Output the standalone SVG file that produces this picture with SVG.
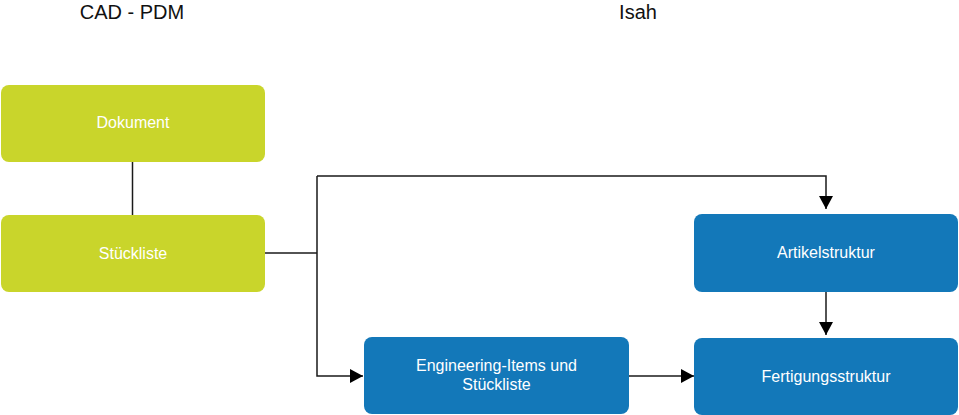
<svg xmlns="http://www.w3.org/2000/svg" width="959" height="415" viewBox="0 0 959 415">
<style>
.t{font-family:"Liberation Sans",Arial,sans-serif;font-size:20px;fill:#111;text-anchor:middle}
.g rect{fill:#c9d52b}
.b rect{fill:#1378b9}
.n text{font-family:"Liberation Sans",Arial,sans-serif;font-size:16px;fill:#fff;text-anchor:middle}
.c{fill:none;stroke:#1a1a1a;stroke-width:1.5}
</style>
<defs>
<marker id="ah" markerWidth="14" markerHeight="14" viewBox="0 0 14 14" refX="13" refY="7" orient="auto" markerUnits="userSpaceOnUse">
<path d="M0,0 L13,7 L0,14 Z" fill="#000"/>
</marker>
</defs>
<rect width="959" height="415" fill="#fff"/>
<text class="t" x="132" y="19">CAD - PDM</text>
<text class="t" x="638" y="19">Isah</text>
<g id="connectors">
<path class="c" d="M132.5,162 V215"/>
<path class="c" d="M265,253 H317"/>
<path class="c" d="M317,176 V376 H363" marker-end="url(#ah)"/>
<path class="c" d="M317,176 H826 V209" marker-end="url(#ah)"/>
<path class="c" d="M826,292 V335" marker-end="url(#ah)"/>
<path class="c" d="M629,376 H694" marker-end="url(#ah)"/>
</g>
<g id="dokument" class="n g"><rect x="1" y="85" width="264" height="77" rx="8"/><text x="133" y="128">Dokument</text></g>
<g id="stueckliste" class="n g"><rect x="1" y="215" width="264" height="77" rx="8"/><text x="133" y="258.5">Stückliste</text></g>
<g id="artikelstruktur" class="n b"><rect x="694" y="214" width="264" height="78" rx="8"/><text x="826" y="258">Artikelstruktur</text></g>
<g id="engineering" class="n b"><rect x="364" y="337" width="265" height="77" rx="8"/><text x="496.5" y="371">Engineering-Items und</text><text x="496.5" y="390">Stückliste</text></g>
<g id="fertigungsstruktur" class="n b"><rect x="694" y="338" width="264" height="77" rx="8"/><text x="826" y="381.5">Fertigungsstruktur</text></g>
</svg>
